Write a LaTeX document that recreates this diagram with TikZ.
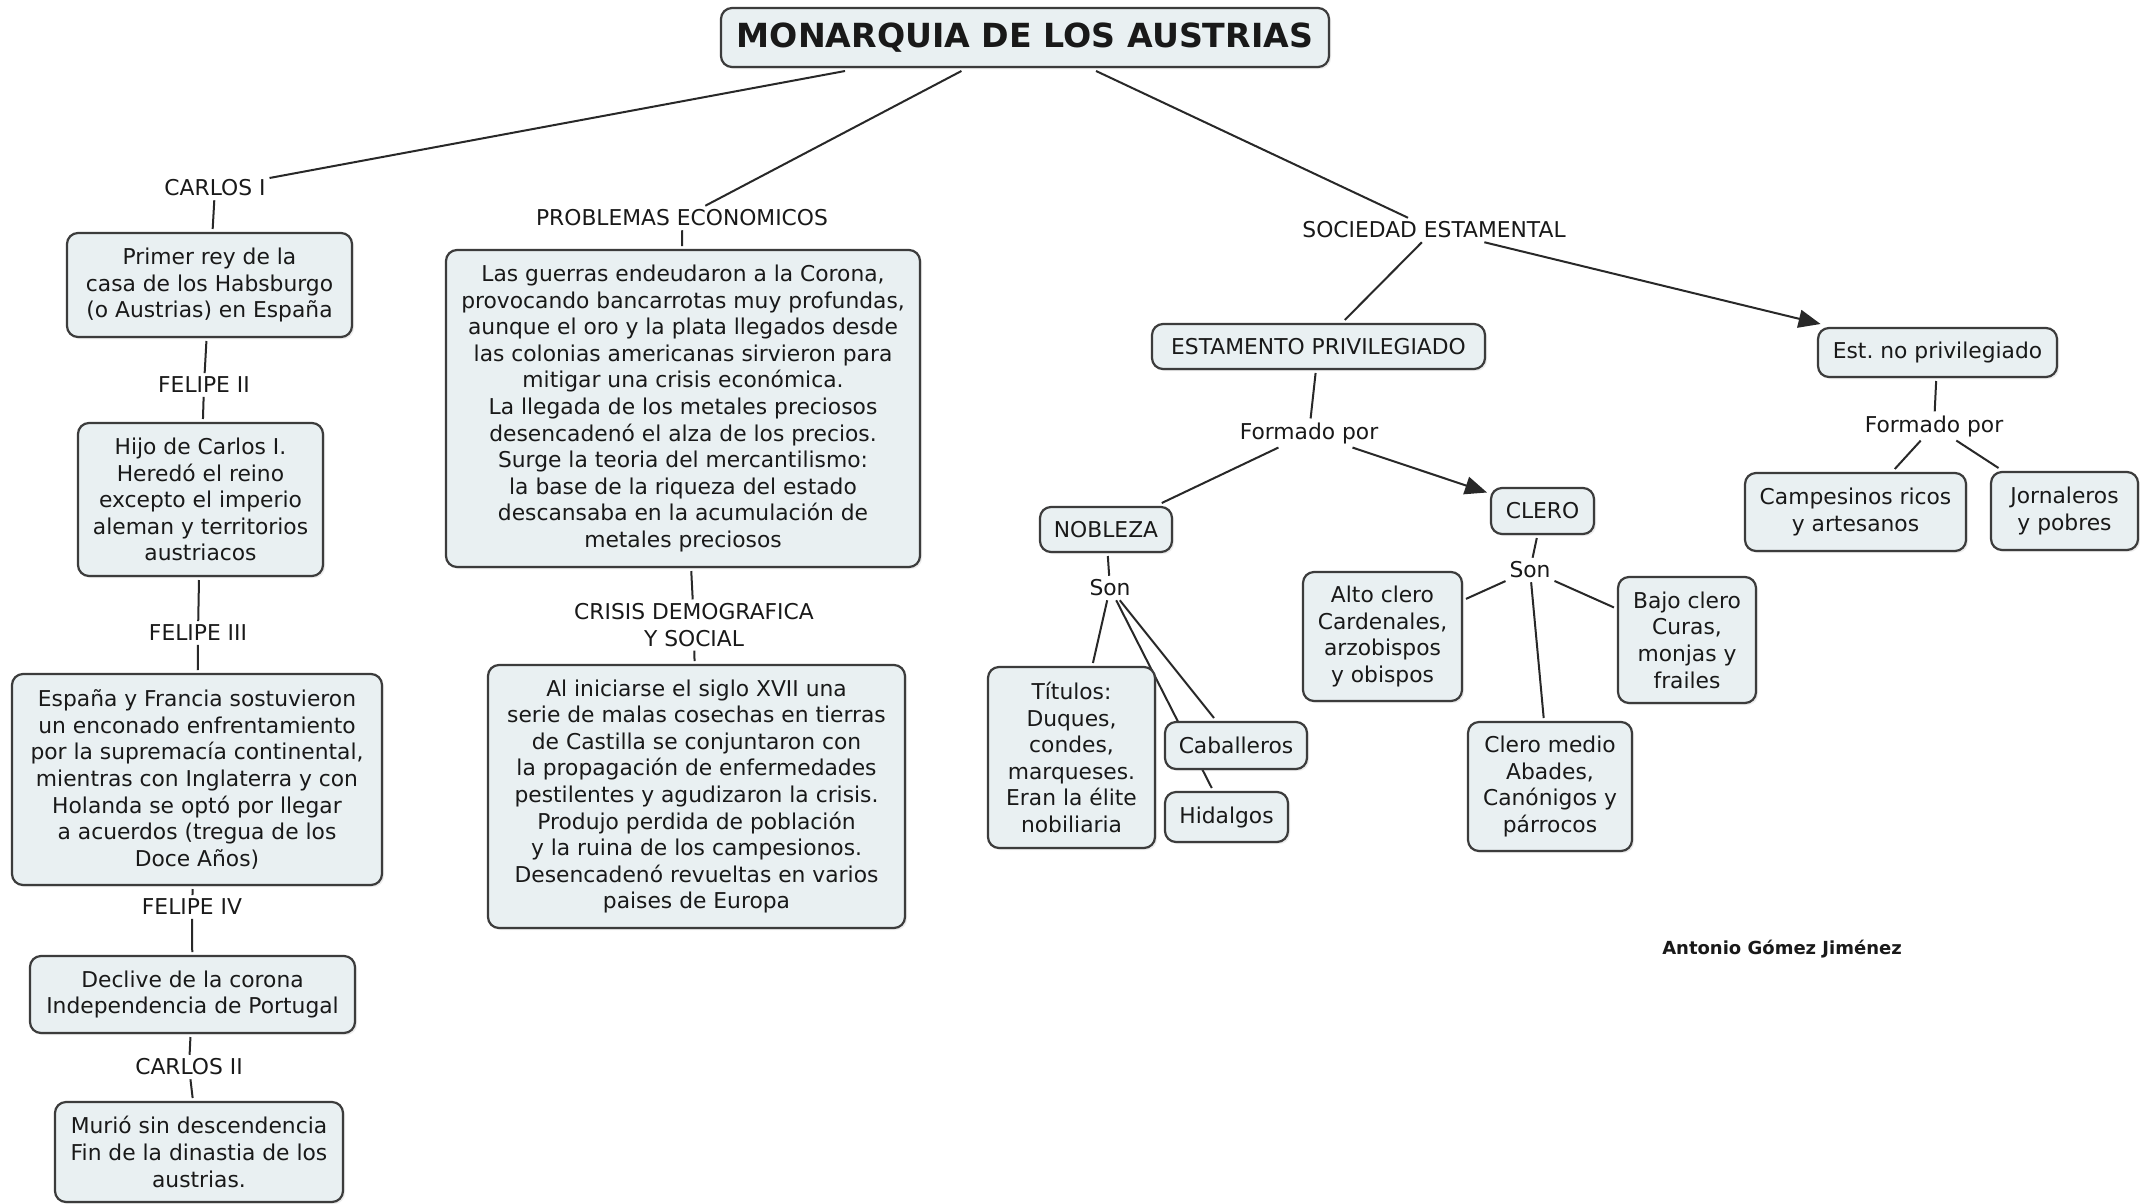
\documentclass[tikz,border=0pt]{standalone}
\usepackage{fontspec}
\setmainfont{DejaVu Sans}
\usetikzlibrary{arrows.meta,backgrounds,shadows}
\definecolor{boxfill}{RGB}{233,240,242}
\definecolor{boxline}{RGB}{60,60,60}
\definecolor{linec}{RGB}{40,40,40}
\definecolor{txt}{RGB}{25,25,25}
\frenchspacing
\newcommand\mbodyfont{\fontsize{21.8}{26.6}\selectfont}
\newcommand\mtitlefont{\fontsize{33.2}{40}\selectfont\bfseries}
\newcommand\mauthorfont{\fontsize{18}{22}\selectfont\bfseries}
\begin{document}
\begin{tikzpicture}[x=1pt,y=-1pt,
  box/.style={draw=boxline, line width=2.2pt, fill=boxfill, rounded corners=11pt,
    align=center, inner sep=0pt, outer sep=4pt, font=\mbodyfont, text=txt,
    drop shadow={opacity=0.15, shadow xshift=2pt, shadow yshift=-2pt}},
  lab/.style={align=center, inner sep=3pt, outer sep=1pt, font=\mbodyfont, text=txt},
  conn/.style={line width=2pt, draw=linec},
  arr/.style={conn, -{Triangle[length=22pt,width=18pt]}}]
\useasboundingbox (0,0) rectangle (2140,1203);

% title
\node[box, minimum width=608pt, minimum height=59pt, font=\mtitlefont] (title) at (1025,37.5) {MONARQUIA DE LOS AUSTRIAS};

% left column
\node[lab] (c1) at (215,188) {CARLOS I};
\node[box, minimum width=285pt, minimum height=104pt] (b1) at (209.5,285) {Primer rey de la\\casa de los Habsburgo\\(o Austrias) en España};
\node[lab] (f2) at (204,385) {FELIPE II};
\node[box, minimum width=245pt, minimum height=153pt] (b2) at (200.5,499.5) {Hijo de Carlos I.\\Heredó el reino\\excepto el imperio\\aleman y territorios\\austriacos};
\node[lab] (f3) at (198,633) {FELIPE III};
\node[box, minimum width=370pt, minimum height=211pt] (b3) at (197,779.5) {España y Francia sostuvieron\\un enconado enfrentamiento\\por la supremacía continental,\\mientras con Inglaterra y con\\Holanda se optó por llegar\\a acuerdos (tregua de los\\Doce Años)};
\node[lab] (f4) at (192,907) {FELIPE IV};
\node[box, minimum width=325pt, minimum height=77pt] (b4) at (192.5,994.5) {Declive de la corona\\Independencia de Portugal};
\node[lab] (c2) at (189,1067) {CARLOS II};
\node[box, minimum width=288pt, minimum height=100pt] (b5) at (199,1152) {Murió sin descendencia\\Fin de la dinastia de los\\austrias.};

% middle column
\node[lab] (pe) at (682,218) {PROBLEMAS ECONOMICOS};
\node[box, minimum width=474pt, minimum height=317pt] (bp) at (683,408.5) {Las guerras endeudaron a la Corona,\\provocando bancarrotas muy profundas,\\aunque el oro y la plata llegados desde\\las colonias americanas sirvieron para\\mitigar una crisis económica.\\La llegada de los metales preciosos\\desencadenó el alza de los precios.\\Surge la teoria del mercantilismo:\\la base de la riqueza del estado\\descansaba en la acumulación de\\metales preciosos};
\node[lab] (cd) at (694,625) {CRISIS DEMOGRAFICA\\Y SOCIAL};
\node[box, minimum width=417pt, minimum height=263pt] (bc) at (696.5,796.5) {Al iniciarse el siglo XVII una\\serie de malas cosechas en tierras\\de Castilla se conjuntaron con\\la propagación de enfermedades\\pestilentes y agudizaron la crisis.\\Produjo perdida de población\\y la ruina de los campesionos.\\Desencadenó revueltas en varios\\paises de Europa};

% right part
\node[lab] (se) at (1434,230) {SOCIEDAD ESTAMENTAL};
\node[box, minimum width=333pt, minimum height=45pt] (ep) at (1318.5,346.5) {ESTAMENTO PRIVILEGIADO};
\node[box, minimum width=239pt, minimum height=49pt] (enp) at (1937.5,352.5) {Est. no privilegiado};
\node[lab] (fl) at (1309,433) {Formado por};
\node[lab] (fr) at (1934,426) {Formado por};
\node[box, minimum width=132pt, minimum height=45pt] (nob) at (1106,529.5) {NOBLEZA};
\node[box, minimum width=103pt, minimum height=46pt] (cle) at (1542.5,511) {CLERO};
\node[lab] (sl) at (1110,588) {Son};
\node[lab] (sr) at (1530,570) {Son};
\node[box, minimum width=167pt, minimum height=181pt] (tit) at (1071.5,757.5) {Títulos:\\Duques,\\condes,\\marqueses.\\Eran la élite\\nobiliaria};
\node[box, minimum width=142pt, minimum height=47pt] (cab) at (1236,745.5) {Caballeros};
\node[box, minimum width=123pt, minimum height=50pt] (hid) at (1226.5,817) {Hidalgos};
\node[box, minimum width=159pt, minimum height=129pt] (alto) at (1382.5,636.5) {Alto clero\\Cardenales,\\arzobispos\\y obispos};
\node[box, minimum width=138pt, minimum height=126pt] (bajo) at (1687,640) {Bajo clero\\Curas,\\monjas y\\frailes};
\node[box, minimum width=164pt, minimum height=129pt] (medio) at (1550,786.5) {Clero medio\\Abades,\\Canónigos y\\párrocos};
\node[box, minimum width=221pt, minimum height=78pt] (camp) at (1855.5,512) {Campesinos ricos\\y artesanos};
\node[box, minimum width=147pt, minimum height=78pt] (jorn) at (2064.5,511) {Jornaleros\\y pobres};
\node[font=\mauthorfont, text=txt, inner sep=2pt] (au) at (1782,949) {Antonio Gómez Jiménez};

\begin{scope}[on background layer]
\fill[white] (0,0) rectangle (2140,1203);
\draw[conn] (title) -- (c1);
\draw[conn] (title) -- (pe);
\draw[conn] (title) -- (se);
\draw[conn] (c1) -- (b1);
\draw[conn] (b1) -- (f2);
\draw[conn] (f2) -- (b2);
\draw[conn] (b2) -- (f3);
\draw[conn] (f3) -- (b3);
\draw[conn] (b3) -- (f4);
\draw[conn] (f4) -- (b4);
\draw[conn] (b4) -- (c2);
\draw[conn] (c2) -- (b5);
\draw[conn] (pe) -- (bp);
\draw[conn] (bp) -- (cd);
\draw[conn] (cd) -- (bc);
\draw[conn] (se) -- (ep);
\draw[arr] (se) -- (enp);
\draw[conn] (ep) -- (fl);
\draw[conn] (fl) -- (nob);
\draw[arr] (fl) -- (cle);
\draw[conn] (nob) -- (sl);
\draw[conn] (sl) -- (tit);
\draw[conn] (sl) -- (cab);
\draw[conn] (sl) -- (hid);
\draw[conn] (cle) -- (sr);
\draw[conn] (sr) -- (alto);
\draw[conn] (sr) -- (bajo);
\draw[conn] (sr) -- (medio);
\draw[conn] (enp) -- (fr);
\draw[conn] (fr) -- (camp);
\draw[conn] (fr) -- (jorn);
\end{scope}
\end{tikzpicture}
\end{document}
